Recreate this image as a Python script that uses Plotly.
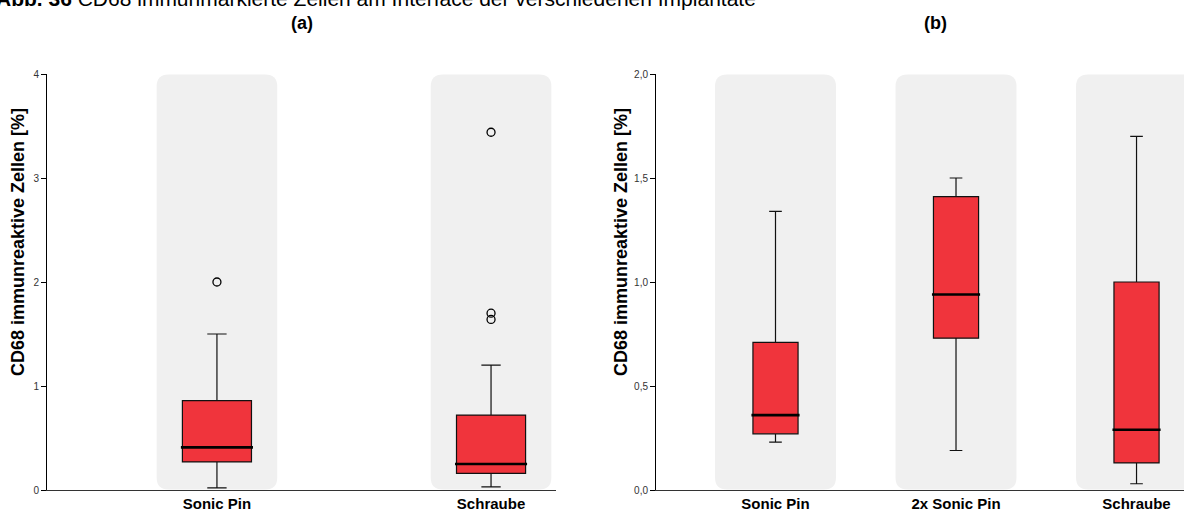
import plotly.graph_objects as go

W, H = 1184, 517

# ---- data -------------------------------------------------------------
cats_a = ["Sonic Pin", "Schraube"]
q1_a = [0.27, 0.16]
med_a = [0.41, 0.25]
q3_a = [0.86, 0.72]
lo_a = [0.02, 0.03]
hi_a = [1.50, 1.20]
out_a = [[2.0], [3.44, 1.70, 1.64]]

cats_b = ["Sonic Pin", "2x Sonic Pin", "Schraube"]
q1_b = [0.27, 0.73, 0.13]
med_b = [0.36, 0.94, 0.29]
q3_b = [0.71, 1.41, 1.00]
lo_b = [0.23, 0.19, 0.03]
hi_b = [1.34, 1.50, 1.70]

ytitle = "CD68 immunreaktive Zellen [%]"
caption_bold = "Abb. 36"
caption = "CD68 immunmarkierte Zellen am Interface der verschiedenen Implantate"

# ---- styling ----------------------------------------------------------
RED = "#F0343C"
STRIPE = "#F0F0F0"
FONT = "Liberation Sans, Arial, sans-serif"

panels = [
    dict(cats=cats_a, q1=q1_a, med=med_a, q3=q3_a, lo=lo_a, hi=hi_a, out=out_a,
         xa="x", ya="y", xdom=[47 / W, 556 / W], xr=[-0.62, 1.237], yr=[0, 4],
         dtick=1, fmt="d", box_w=0.252, stripe_w=0.44, title_x=18 / W),
    dict(cats=cats_b, q1=q1_b, med=med_b, q3=q3_b, lo=lo_b, hi=hi_b, out=None,
         xa="x2", ya="y2", xdom=[656 / W, 1.0], xr=[-0.662, 2.263], yr=[0, 2],
         dtick=0.5, fmt=".1f", box_w=0.25, stripe_w=0.67, title_x=621 / W),
]
ydom = [(H - 490) / H, (H - 74) / H]

fig = go.Figure()
shapes = []
annotations = []

for p in panels:
    n = len(p["cats"])
    xs = list(range(n))
    # pixel scale of this panel, used for rounded stripe corners
    px_x = (p["xdom"][1] - p["xdom"][0]) * W / (p["xr"][1] - p["xr"][0])
    px_y = (ydom[1] - ydom[0]) * H / (p["yr"][1] - p["yr"][0])
    rx, ry = 12 / px_x, 12 / px_y
    y0, y1 = p["yr"][0] + 0.5 / px_y, p["yr"][1] - 0.5 / px_y
    for i in xs:
        x0, x1 = i - p["stripe_w"] / 2, i + p["stripe_w"] / 2
        path = (f"M{x0 + rx},{y0} L{x1 - rx},{y0} Q{x1},{y0} {x1},{y0 + ry} "
                f"L{x1},{y1 - ry} Q{x1},{y1} {x1 - rx},{y1} "
                f"L{x0 + rx},{y1} Q{x0},{y1} {x0},{y1 - ry} "
                f"L{x0},{y0 + ry} Q{x0},{y0} {x0 + rx},{y0} Z")
        shapes.append(dict(type="path", path=path, xref=p["xa"], yref=p["ya"],
                           fillcolor=STRIPE, line=dict(width=0), layer="below"))

    for i in xs:
        fig.add_trace(go.Box(
            x=[i], q1=[p["q1"][i]], median=[p["med"][i]], q3=[p["q3"][i]],
            lowerfence=[p["lo"][i]], upperfence=[p["hi"][i]],
            width=p["box_w"], whiskerwidth=0.28,
            fillcolor=RED, line=dict(color="#111111", width=1.2),
            boxpoints=False, hoverinfo="skip", showlegend=False,
            xaxis=p["xa"], yaxis=p["ya"]))
        # heavier median bar
        hw = p["box_w"] / 2 + 1.5 / px_x
        fig.add_trace(go.Scatter(
            x=[i - hw, i + hw], y=[p["med"][i]] * 2, mode="lines",
            line=dict(color="black", width=2.6), hoverinfo="skip",
            showlegend=False, xaxis=p["xa"], yaxis=p["ya"]))
        if p["out"]:
            fig.add_trace(go.Scatter(
                x=[i] * len(p["out"][i]), y=p["out"][i], mode="markers",
                marker=dict(symbol="circle-open", size=8, color="black",
                            line=dict(width=1.3)),
                hoverinfo="skip", showlegend=False,
                xaxis=p["xa"], yaxis=p["ya"]))

    # vertical axis title, placed a little above the panel centre
    annotations.append(dict(
        text=f"<b>{ytitle}</b>", textangle=-90, xref="paper", yref="paper",
        x=p["title_x"], y=(H - 242) / H, xanchor="center", yanchor="middle",
        showarrow=False, font=dict(family=FONT, size=18, color="black")))

axis_common_x = dict(showline=True, linecolor="#333333", linewidth=1,
                     showgrid=False, zeroline=False, ticks="",
                     tickfont=dict(family=FONT, size=15, color="black"),
                     automargin=False, fixedrange=True)
axis_common_y = dict(showline=True, linecolor="black", linewidth=1,
                     showgrid=False, zeroline=False, ticks="outside",
                     ticklen=5, tickcolor="black",
                     tickfont=dict(family=FONT, size=10, color="#333333"),
                     automargin=False, fixedrange=True)

annotations += [
    dict(text=f"<b>{caption_bold}</b> {caption}", xref="paper", yref="paper",
         x=-6 / W, y=1 - 12 / H, xanchor="left", yanchor="bottom",
         showarrow=False, font=dict(family=FONT, size=21, color="black")),
    dict(text="<b>(a)</b>", xref="paper", yref="paper",
         x=302 / W, y=(H - 23) / H, xanchor="center", yanchor="middle",
         showarrow=False, font=dict(family=FONT, size=18, color="black")),
    dict(text="<b>(b)</b>", xref="paper", yref="paper",
         x=935 / W, y=(H - 23) / H, xanchor="center", yanchor="middle",
         showarrow=False, font=dict(family=FONT, size=18, color="black")),
]

pa, pb = panels
fig.update_layout(
    width=W, height=H, margin=dict(l=0, r=0, t=0, b=0),
    paper_bgcolor="white", plot_bgcolor="white",
    separators=",.",
    xaxis=dict(axis_common_x, domain=pa["xdom"], range=pa["xr"],
               tickvals=list(range(len(cats_a))),
               ticktext=[f"<b>{c}</b>" for c in cats_a], anchor="y"),
    yaxis=dict(axis_common_y, domain=ydom, range=pa["yr"], dtick=pa["dtick"],
               tickformat=pa["fmt"], anchor="x"),
    xaxis2=dict(axis_common_x, domain=pb["xdom"], range=pb["xr"],
                tickvals=list(range(len(cats_b))),
                ticktext=[f"<b>{c}</b>" for c in cats_b], anchor="y2"),
    yaxis2=dict(axis_common_y, domain=ydom, range=pb["yr"], dtick=pb["dtick"],
                tickformat=pb["fmt"], anchor="x2"),
    shapes=shapes,
    annotations=annotations,
)

fig.write_html("out.html")
